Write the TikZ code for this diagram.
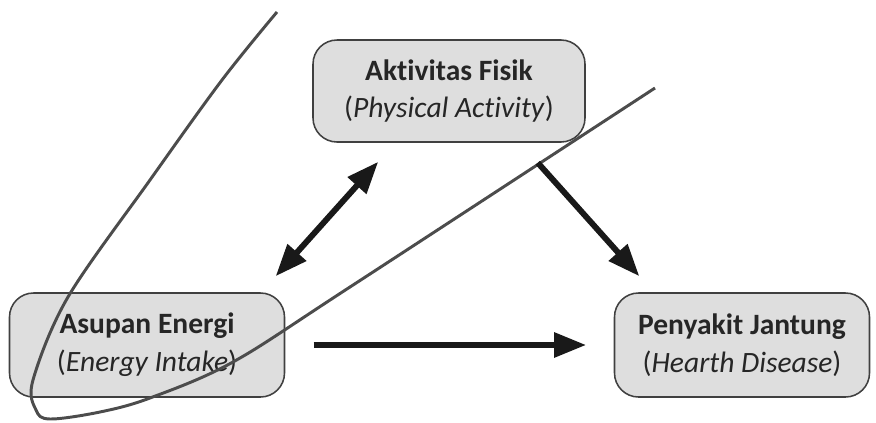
\documentclass[tikz,border=0pt]{standalone}
\usepackage{fontspec}
\setmainfont{Carlito}[Ligatures=NoCommon]
\usepackage{tikz}
\usetikzlibrary{arrows.meta}
\definecolor{boxfill}{gray}{0.87}
\definecolor{boxline}{gray}{0.25}
\definecolor{curveline}{gray}{0.3}
\tikzset{
  factor/.style={draw=boxline, line width=1.1pt, fill=boxfill, rounded corners=0.6cm,
    align=center, inner sep=0pt, text=black!85, font=\fontsize{21}{27}\selectfont},
  arr/.style={draw=black!90, line width=4.2pt, -{Triangle[length=0.8cm,width=0.6cm]}},
  arrs/.style={draw=black!90, line width=4.2pt,
    {Triangle[length=0.8cm,width=0.6cm]}-{Triangle[length=0.8cm,width=0.6cm]}},
}

\begin{document}
\begin{tikzpicture}
\useasboundingbox (0,0) rectangle (21.9,10.55);
\node[factor, minimum width=6.8cm, minimum height=2.55cm] (aktivitas) at (11.225,8.275)
  {\textbf{Aktivitas Fisik}\\(\textit{Physical Activity})};
\node[factor, minimum width=6.875cm, minimum height=2.6cm] (asupan) at (3.675,1.925)
  {\textbf{Asupan Energi}\\(\textit{Energy Intake})};
\node[factor, minimum width=6.375cm, minimum height=2.6cm] (penyakit) at (18.55,1.925)
  {\textbf{Penyakit Jantung}\\(\textit{Hearth Disease})};
\draw[curveline, line width=2.1pt] plot[smooth, tension=0.55] coordinates
  {(6.925,10.25) (5.55,8.55) (3.75,6.05) (1.7,3.125) (0.825,1.05) (0.9,0.3)
   (1.25,0.075) (2.5,0.25) (3.75,0.6) (5.825,1.5) (8.75,3.375) (16.375,8.35)};
\draw[arrs] ([shift={(-0.24,0.4)}]asupan.north east) -- ([shift={(1.65,-0.475)}]aktivitas.south west);
\draw[arr] ([shift={(-1.2,-0.5)}]aktivitas.south east) -- ([shift={(0.64,0.4)}]penyakit.north west);
\draw[arr, shorten <=0.71cm, shorten >=0.69cm] (asupan.east) -- (penyakit.west);
\end{tikzpicture}
\end{document}
